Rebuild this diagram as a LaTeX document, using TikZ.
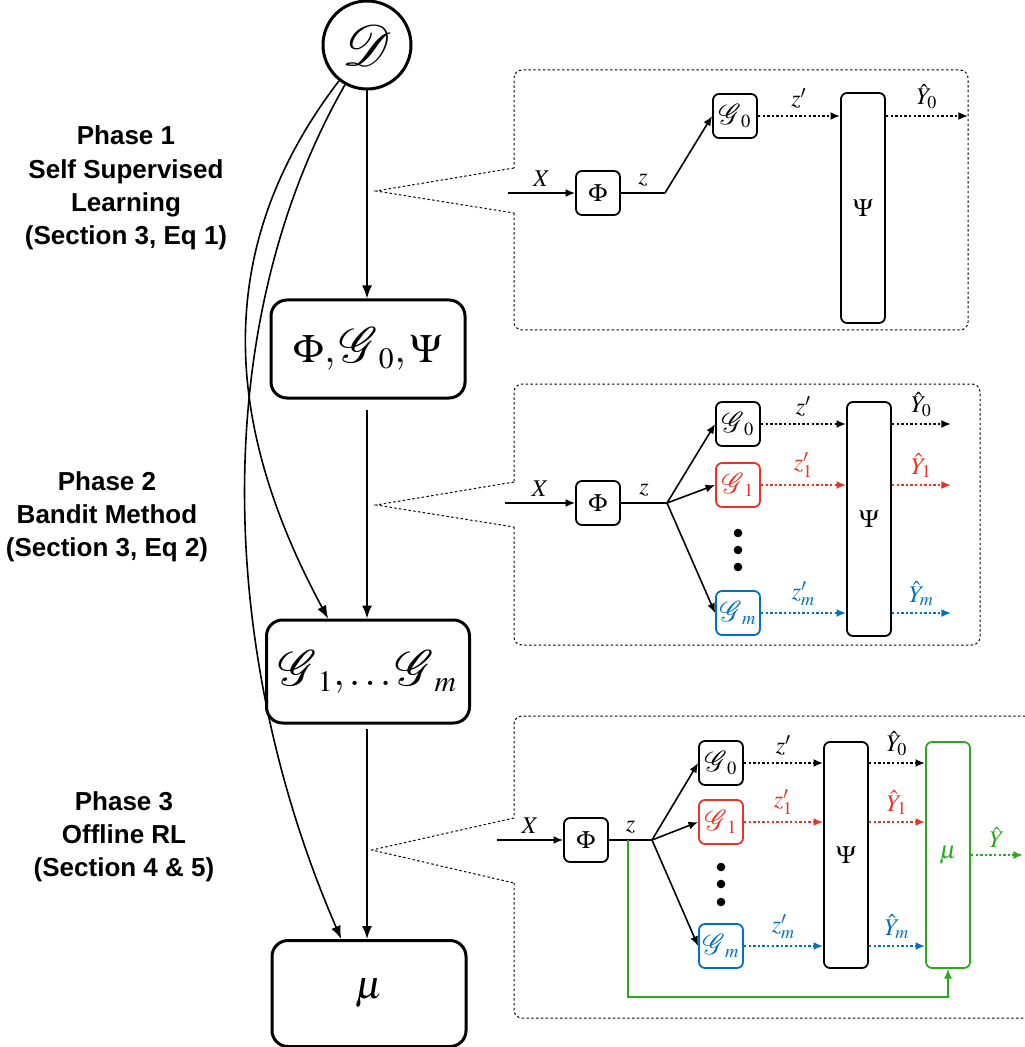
\documentclass[tikz,border=0pt]{standalone}
\usepackage{xcolor}
\definecolor{colOne}{RGB}{236,50,36}
\definecolor{colM}{RGB}{0,112,192}
\definecolor{colMu}{RGB}{40,170,25}
\usepackage{graphicx}
\usepackage{mathptmx}
\usepackage{mathrsfs}
\usepackage[no-math]{fontspec}
\setsansfont{Liberation Sans}
\usepackage{tikz}
\usetikzlibrary{arrows.meta, positioning, calc}
\newcommand{\gen}{\mbox{\scalebox{1.2}{$\mathscr{G}$}}}

\tikzset{
  phase/.style={font=\fontsize{13}{16.6}\selectfont\sffamily\bfseries, align=center},
  bigbox/.style={draw, line width=1.5pt, rounded corners=8pt, minimum width=97pt, minimum height=49pt, font=\fontsize{20}{24}\selectfont},
  blk/.style={draw, line width=0.9pt, rounded corners=3pt, minimum width=22pt, minimum height=22pt, inner sep=1pt, font=\fontsize{12.5}{15}\selectfont},
  tallblk/.style={blk, minimum height=114pt},
  lbl/.style={font=\fontsize{12}{14}\selectfont, inner sep=0pt},
  bigflow/.style={-{Latex[length=6.5pt,width=5pt]}, line width=0.8pt},
  flow/.style={-{Latex[length=4.8pt,width=4pt]}, line width=0.8pt},
  dotflow/.style={flow, line width=1.1pt, dash pattern=on 1.2pt off 1.1pt},
  panel/.style={line width=0.5pt, dash pattern=on 1.2pt off 1.2pt},
}

\begin{document}
\begin{tikzpicture}[x=0.5pt, y=-0.5pt]
  \useasboundingbox (0,0) rectangle (1024,1047);

  % left column
  \node[circle, draw, line width=1.5pt, minimum size=44pt, inner sep=0pt, font=\fontsize{23}{27}\selectfont] (D) at (367,45) {\scalebox{1.15}{$\mathscr{D}$}};
  \node[bigbox] (b1) at (368,349) {$\Phi, \gen_0, \Psi$};
  \node[bigbox, minimum width=101.5pt, minimum height=51.5pt] (b2) at (368,671.5) {$\gen_1, \ldots \gen_m$};
  \node[bigbox, minimum height=53pt] (b3) at (369,993.5) {$\mu$};

  \draw[bigflow] (D.south) -- (D.south |- b1.north);
  \draw[bigflow, shorten <=5pt] (b1.south -| D.south) -- (D.south |- b2.north);
  \draw[bigflow, shorten <=2pt] (b2.south -| D.south) -- (D.south |- b3.north);
  \draw[bigflow] (D.232) .. controls (225,230) and (210,400) .. (b2.127);
  \draw[bigflow] (D.241) .. controls (205,330) and (220,660) .. (b3.117);

  \node[phase] (ph1) at (126,188) {Phase 1\\Self Supervised\\Learning\\(Section 3, Eq 1)};
  \node[phase] (ph2) at (107,517) {Phase 2\\Bandit Method\\(Section 3, Eq 2)};
  \node[phase] (ph3) at (124,837) {Phase 3\\Offline RL\\(Section 4 \& 5)};

  % phase 1 panel
  \draw[panel] (514,168) -- (376,191) -- (514,213);
  \draw[panel, rounded corners=4pt] (514,213) -- (514,330) -- (968,330) -- (968,70) -- (514,70) -- (514,168);
  \coordinate (in1) at (508,193);
  \coordinate (k1) at (665,193);
  \coordinate (out1) at (968,116);
  \node[blk] (phi1) at (598,193) {$\Phi$};
  \node[blk] (g01) at (735,116) {$\gen_0$};
  \node[tallblk, minimum height=115pt] (psi1) at (863,208) {$\Psi$};
  \draw[flow] (in1) -- node[lbl, above=3pt] {$X$} (phi1.west);
  \draw[line width=0.8pt] (phi1.east) -- node[lbl, above=3pt] {$z$} (k1);
  \draw[flow] (k1) -- (g01.west);
  \draw[dotflow] (g01.east) -- node[lbl, above=3pt] {$z'$} (g01 -| psi1.west);
  \draw[dotflow] (psi1.east |- g01) -- node[lbl, above=3pt] {$\hat{Y}_0$} (out1);

  % phase 2 panel
  \draw[panel] (514,482) -- (376,505) -- (514,527);
  \draw[panel, rounded corners=4pt] (514,527) -- (514,645) -- (980,645) -- (980,384) -- (514,384) -- (514,482);
  \coordinate (in2) at (505,503);
  \coordinate (k2) at (667,503);
  \coordinate (out2) at (951,503);
  \node[blk] (phi2) at (598,503) {$\Phi$};
  \node[blk] (g02) at (738,424) {$\gen_0$};
  \node[blk, colOne] (g12) at (738,485) {$\gen_1$};
  \node[blk, colM] (gm2) at (738,613) {$\gen_m$};
  \node[tallblk, minimum height=117pt] (psi2) at (869,519) {$\Psi$};
  \foreach \y in {533,550,567} \fill (738,\y) circle (4.3);
  \draw[flow] (in2) -- node[lbl, above=3pt] {$X$} (phi2.west);
  \draw[line width=0.8pt] (phi2.east) -- node[lbl, above=3pt] {$z$} (k2);
  \draw[flow] (k2) -- (g02.west);
  \draw[flow] (k2) -- (g12.west);
  \draw[flow] (k2) -- (gm2.west);
  \draw[dotflow] (g02.east) -- node[lbl, above=3pt] {$z'$} (g02 -| psi2.west);
  \draw[dotflow, colOne] (g12.east) -- node[lbl, above=3pt] {$z'_1$} (g12 -| psi2.west);
  \draw[dotflow, colM] (gm2.east) -- node[lbl, above=3pt] {$z'_m$} (gm2 -| psi2.west);
  \draw[dotflow] (psi2.east |- g02) -- node[lbl, above=3pt] {$\hat{Y}_0$} (g02 -| out2);
  \draw[dotflow, colOne] (psi2.east |- g12) -- node[lbl, above=3pt] {$\hat{Y}_1$} (g12 -| out2);
  \draw[dotflow, colM] (psi2.east |- gm2) -- node[lbl, above=3pt] {$\hat{Y}_m$} (gm2 -| out2);

  % phase 3 panel
  \draw[panel] (514,818) -- (372,850) -- (514,883);
  \draw[panel, rounded corners=4pt] (514,883) -- (514,1018) -- (1034,1018) -- (1034,716) -- (514,716) -- (514,818);
  \coordinate (in3) at (497,840);
  \coordinate (tap3) at (628,840);
  \coordinate (k3) at (652,840);
  \coordinate (base3) at (948,997);
  \coordinate (out3) at (1023,855);
  \node[blk] (phi3) at (586,840) {$\Phi$};
  \node[blk] (g03) at (721,763) {$\gen_0$};
  \node[blk, colOne] (g13) at (721,822) {$\gen_1$};
  \node[blk, colM] (gm3) at (721,946) {$\gen_m$};
  \node[tallblk, minimum height=113pt] (psi3) at (846,855) {$\Psi$};
  \node[tallblk, minimum height=113pt, colMu] (mu3) at (948,855) {$\mu$};
  \foreach \y in {867,884,902} \fill (721,\y) circle (4.3);
  \draw[flow] (in3) -- node[lbl, above=3pt] {$X$} (phi3.west);
  \draw[line width=0.8pt] (phi3.east) -- node[lbl, above=3pt] {$z$} (k3);
  \draw[flow] (k3) -- (g03.west);
  \draw[flow] (k3) -- (g13.west);
  \draw[flow] (k3) -- (gm3.west);
  \draw[flow, colMu] (tap3) |- (base3) -- (mu3.south);
  \draw[dotflow] (g03.east) -- node[lbl, above=3pt] {$z'$} (g03 -| psi3.west);
  \draw[dotflow, colOne] (g13.east) -- node[lbl, above=3pt] {$z'_1$} (g13 -| psi3.west);
  \draw[dotflow, colM] (gm3.east) -- node[lbl, above=3pt] {$z'_m$} (gm3 -| psi3.west);
  \draw[dotflow] (psi3.east |- g03) -- node[lbl, above=3pt] {$\hat{Y}_0$} (g03 -| mu3.west);
  \draw[dotflow, colOne] (psi3.east |- g13) -- node[lbl, above=3pt] {$\hat{Y}_1$} (g13 -| mu3.west);
  \draw[dotflow, colM] (psi3.east |- gm3) -- node[lbl, above=3pt] {$\hat{Y}_m$} (gm3 -| mu3.west);
  \draw[dotflow, colMu] (mu3.east) -- node[lbl, above=3pt] {$\hat{Y}$} (out3);
\end{tikzpicture}
\end{document}
